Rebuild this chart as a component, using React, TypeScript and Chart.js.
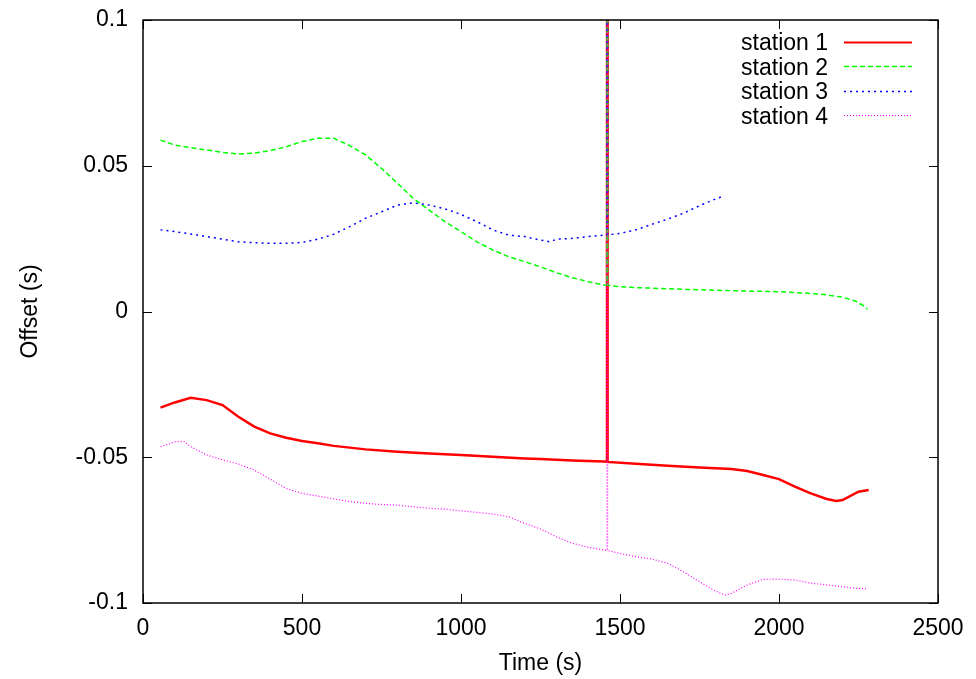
import React, { useEffect, useRef } from "react";
import { Chart, registerables } from "chart.js";

Chart.register(...registerables);

// ---- data ----
const seriesNames = ["station 1", "station 2", "station 3", "station 4"];

const times1 = [55, 100, 150, 200, 250, 300, 350, 400, 450, 500, 550, 600, 650, 700, 800, 900, 1000, 1100, 1200, 1250, 1350, 1450, 1459, 1460, 1461, 1550, 1650, 1750, 1850, 1900, 1950, 2000, 2050, 2100, 2150, 2180, 2200, 2250, 2282];
const values1 = [-0.0330, -0.0312, -0.0296, -0.0304, -0.0321, -0.0361, -0.0395, -0.0418, -0.0433, -0.0444, -0.0452, -0.0461, -0.0467, -0.0473, -0.0481, -0.0487, -0.0492, -0.0498, -0.0504, -0.0506, -0.0511, -0.0515, -0.0516, 0.5, -0.0516, -0.0522, -0.0529, -0.0535, -0.0540, -0.0547, -0.0561, -0.0575, -0.0601, -0.0624, -0.0643, -0.0650, -0.0647, -0.0618, -0.0612];

const times2 = [55, 100, 150, 200, 250, 300, 350, 400, 450, 500, 550, 600, 650, 700, 750, 800, 850, 900, 950, 1000, 1050, 1100, 1150, 1200, 1250, 1300, 1350, 1400, 1450, 1459, 1460, 1461, 1500, 1550, 1600, 1700, 1800, 1900, 2000, 2100, 2150, 2200, 2240, 2270, 2278];
const values2 = [0.0588, 0.0571, 0.0562, 0.0554, 0.0546, 0.0540, 0.0543, 0.0552, 0.0565, 0.0583, 0.0594, 0.0594, 0.0569, 0.0537, 0.0491, 0.0440, 0.0388, 0.0348, 0.0308, 0.0274, 0.0239, 0.0211, 0.0188, 0.0171, 0.0153, 0.0133, 0.0116, 0.0102, 0.0091, 0.0090, 0.5, 0.0090, 0.0085, 0.0082, 0.0080, 0.0076, 0.0073, 0.0070, 0.0068, 0.0062, 0.0057, 0.0049, 0.0036, 0.0017, 0.0008];

const times3 = [55, 100, 150, 200, 250, 300, 350, 400, 450, 500, 550, 600, 650, 700, 750, 800, 850, 900, 950, 1000, 1050, 1100, 1150, 1200, 1250, 1280, 1300, 1350, 1400, 1450, 1459, 1460, 1461, 1500, 1550, 1600, 1650, 1700, 1750, 1800, 1818];
const values3 = [0.0280, 0.0274, 0.0266, 0.0257, 0.0248, 0.0239, 0.0236, 0.0234, 0.0234, 0.0237, 0.0248, 0.0265, 0.0291, 0.0320, 0.0342, 0.0365, 0.0373, 0.0365, 0.0352, 0.0333, 0.0308, 0.0280, 0.0262, 0.0257, 0.0245, 0.0239, 0.0248, 0.0251, 0.0257, 0.0262, 0.0263, 0.5, 0.0263, 0.0268, 0.0280, 0.0299, 0.0317, 0.0337, 0.0363, 0.0386, 0.0393];

const times4 = [55, 100, 130, 150, 200, 250, 300, 350, 400, 450, 500, 550, 600, 650, 700, 750, 800, 850, 900, 950, 1000, 1050, 1100, 1150, 1200, 1250, 1300, 1350, 1400, 1450, 1459, 1460, 1461, 1500, 1550, 1600, 1650, 1700, 1750, 1800, 1830, 1850, 1900, 1950, 2000, 2050, 2100, 2150, 2200, 2250, 2280];
const values4 = [-0.0464, -0.0447, -0.0446, -0.0464, -0.0492, -0.0509, -0.0523, -0.0544, -0.0575, -0.0607, -0.0624, -0.0633, -0.0643, -0.0652, -0.0658, -0.0662, -0.0664, -0.0670, -0.0675, -0.0678, -0.0684, -0.0689, -0.0695, -0.0704, -0.0727, -0.0746, -0.0773, -0.0795, -0.0809, -0.0818, -0.0820, 0.5, -0.0820, -0.0830, -0.0841, -0.0849, -0.0864, -0.0893, -0.0927, -0.0959, -0.0973, -0.0967, -0.0938, -0.0919, -0.0918, -0.0921, -0.0932, -0.0938, -0.0944, -0.0950, -0.0952];

const xTicks = [0, 500, 1000, 1500, 2000, 2500];
const xTickLabels = ["0", "500", "1000", "1500", "2000", "2500"];
const yTicks = [-0.1, -0.05, 0, 0.05, 0.1];
const yTickLabels = ["-0.1", "-0.05", "0", "0.05", "0.1"];

const xTitle = "Time (s)";
const yTitle = "Offset (s)";

// ---- styles ----
const seriesColors = ["#ff0000", "#00ff00", "#0000ff", "#ff00ff"];
const seriesDashes: number[][] = [[], [5, 3], [2, 4], [1, 2]];
const seriesWidths = [2.5, 1.5, 1.5, 1.2];
const legendWidths = [2, 1.3, 1.5, 1];
const FONT = '"Liberation Sans", Arial, Helvetica, sans-serif';
const FONT_SIZE = 23;

const allTimes = [times1, times2, times3, times4];
const allValues = [values1, values2, values3, values4];

const framePlugin = {
  id: "gnuplotFrame",
  afterDatasetsDraw(chart: any) {
    const ctx = chart.ctx;
    const { left, right, top, bottom } = chart.chartArea;
    const xs = chart.scales.x;
    const ys = chart.scales.y;
    ctx.save();
    ctx.strokeStyle = "#000";
    ctx.lineWidth = 1.5;
    ctx.setLineDash([]);
    ctx.strokeRect(left, top, right - left, bottom - top);
    const tl = 9;
    ctx.lineWidth = 1;
    ctx.beginPath();
    xTicks.forEach((v) => {
      const px = Math.round(xs.getPixelForValue(v)) + 0.5;
      ctx.moveTo(px, bottom);
      ctx.lineTo(px, bottom - tl);
      ctx.moveTo(px, top);
      ctx.lineTo(px, top + tl);
    });
    yTicks.forEach((v) => {
      const py = Math.round(ys.getPixelForValue(v)) + 0.5;
      ctx.moveTo(left, py);
      ctx.lineTo(left + tl, py);
      ctx.moveTo(right, py);
      ctx.lineTo(right - tl, py);
    });
    ctx.stroke();

    // legend (gnuplot style: right-aligned text, sample line to the right)
    ctx.font = `${FONT_SIZE}px ${FONT}`;
    ctx.fillStyle = "#000";
    ctx.textAlign = "right";
    ctx.textBaseline = "alphabetic";
    const textRight = right - 110;
    const sampleL = right - 94;
    const sampleR = right - 26;
    seriesNames.forEach((name, i) => {
      const baseY = top + 30 + i * 24.6;
      ctx.fillText(name, textRight, baseY);
      ctx.beginPath();
      ctx.strokeStyle = seriesColors[i];
      ctx.lineWidth = legendWidths[i];
      ctx.setLineDash(seriesDashes[i]);
      const ly = Math.round(baseY - 8.5) + 0.5;
      ctx.moveTo(sampleL, ly);
      ctx.lineTo(sampleR, ly);
      ctx.stroke();
    });
    ctx.restore();
  },
};

export default function App() {
  const ref = useRef<HTMLCanvasElement | null>(null);

  useEffect(() => {
    if (!ref.current) return;
    const datasets = seriesNames.map((name, i) => ({
      label: name,
      data: allTimes[i].map((t, j) => ({ x: t, y: allValues[i][j] })),
      borderColor: seriesColors[i],
      backgroundColor: seriesColors[i],
      borderWidth: seriesWidths[i],
      borderDash: seriesDashes[i],
      pointRadius: 0,
      tension: 0,
      fill: false,
      clip: 0,
      order: seriesNames.length - i,
    }));

    const chart = new Chart(ref.current, {
      type: "line",
      data: { datasets },
      options: {
        animation: false,
        responsive: false,
        maintainAspectRatio: false,
        layout: { padding: { top: 20, right: 38, left: 0, bottom: 0 } },
        plugins: {
          legend: { display: false },
          tooltip: { enabled: false },
        },
        scales: {
          x: {
            type: "linear",
            min: 0,
            max: 2500,
            afterBuildTicks: (scale: any) => {
              scale.ticks = xTicks.map((v) => ({ value: v }));
            },
            afterFit: (scale: any) => {
              scale.height = 76;
              scale.paddingLeft = 0;
              scale.paddingRight = 0;
            },
            grid: { display: false, drawTicks: false },
            border: { display: false },
            ticks: {
              color: "#000",
              font: { family: FONT, size: FONT_SIZE },
              padding: 12,
              maxRotation: 0,
              autoSkip: false,
              callback: (_v: any, idx: number) => xTickLabels[idx],
            },
            title: {
              display: true,
              text: xTitle,
              color: "#000",
              font: { family: FONT, size: FONT_SIZE },
              padding: { top: 0, bottom: 2 },
            },
          },
          y: {
            type: "linear",
            min: -0.1,
            max: 0.1,
            afterBuildTicks: (scale: any) => {
              scale.ticks = yTicks.map((v) => ({ value: v }));
            },
            afterFit: (scale: any) => {
              scale.width = 143;
              scale.paddingTop = 0;
              scale.paddingBottom = 0;
            },
            grid: { display: false, drawTicks: false },
            border: { display: false },
            ticks: {
              color: "#000",
              font: { family: FONT, size: FONT_SIZE },
              padding: 15,
              autoSkip: false,
              callback: (_v: any, idx: number) => yTickLabels[idx],
            },
            title: {
              display: true,
              text: yTitle,
              color: "#000",
              font: { family: FONT, size: FONT_SIZE },
              padding: { top: 17, bottom: 0 },
            },
          },
        },
      },
      plugins: [framePlugin],
    } as any);

    return () => chart.destroy();
  }, []);

  return (
    <div style={{ position: "absolute", left: 0, top: 0, width: 976, height: 679, background: "#fff" }}>
      <canvas ref={ref} width={976} height={679} style={{ display: "block" }} />
    </div>
  );
}
